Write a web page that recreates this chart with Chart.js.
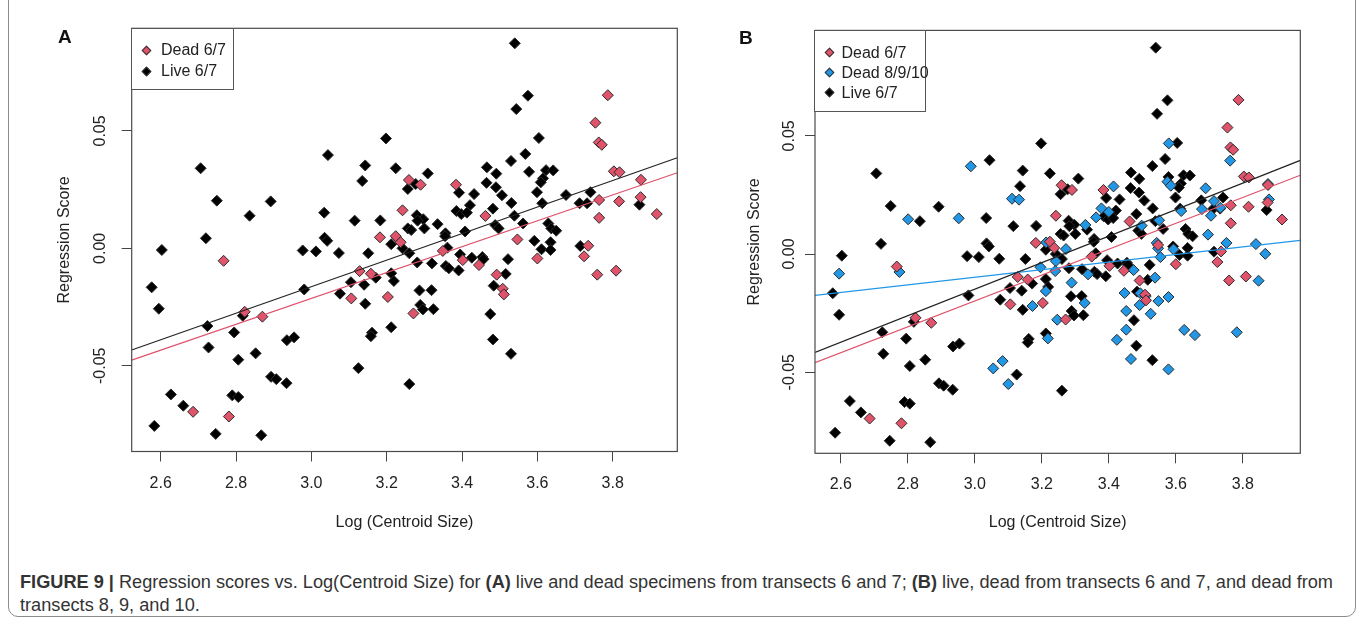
<!DOCTYPE html>
<html>
<head>
<meta charset="utf-8">
<title>Figure 9 - Regression scores vs. Log(Centroid Size)</title>
<script src="https://cdn.jsdelivr.net/npm/chart.js@4.4.1/dist/chart.umd.min.js"></script>
<style>
  html, body { margin: 0; padding: 0; background: #fff; }
  body { width: 1360px; height: 627px; position: relative; overflow: hidden; font-family: "Liberation Sans", Arial, sans-serif; }
  canvas { position: absolute; top: 0; }
  .frame { position: absolute; left: 8px; top: -20px; width: 1348px; height: 637px; border: 1.5px solid #8c8c8c; border-radius: 10px; box-sizing: border-box; }
  .tag { position: absolute; font-weight: bold; font-size: 19px; color: #111; line-height: 20px; }
  .legend { position: absolute; border: 1px solid #555; background: #fff; box-sizing: border-box; }
  .legend .row { position: absolute; font-size: 16px; line-height: 20px; color: #222; white-space: nowrap; }
  .legend .mk { position: absolute; width: 5px; height: 5px; border: 1px solid #333; transform: rotate(45deg); }
  .caption { position: absolute; left: 20px; font-size: 17.5px; line-height: 20px; color: #333; white-space: nowrap; transform-origin: 0 50%; }
</style>
</head>
<body>
<div class="frame"></div>
<canvas id="chartA" width="700" height="545" style="left:0px"></canvas>
<canvas id="chartB" width="660" height="545" style="left:700px"></canvas>
<div class="tag" style="left:58px;top:27px">A</div>
<div class="tag" style="left:739px;top:28px">B</div>
<div class="legend" id="legendA" style="left:131px;top:28px;width:103px;height:62px"></div>
<div class="legend" id="legendB" style="left:814px;top:30px;width:112px;height:82px"></div>
<div class="caption" id="cap1" style="top:572px"><b>FIGURE 9 |</b> Regression scores vs. Log(Centroid Size) for <b>(A)</b> live and dead specimens from transects 6 and 7; <b>(B)</b> live, dead from transects 6 and 7, and dead from</div>
<div class="caption" id="cap2" style="top:595px">transects 8, 9, and 10.</div>

<script>
// axis ticks
const xTicks = [2.6, 2.8, 3.0, 3.2, 3.4, 3.6, 3.8];
const yTicks = [-0.05, 0.00, 0.05];
const xRange = [2.523, 3.9715];
const yRangeA = [-0.0865, 0.0937];
const yRangeB = [-0.0843, 0.0946];

// series names
const namesA = ['Dead 6/7', 'Live 6/7'];
const namesB = ['Dead 6/7', 'Dead 8/9/10', 'Live 6/7'];

// Live 6/7  [log centroid size, regression score]
const live67 = [
  [2.706,0.0341],[2.749,0.0203],[2.836,0.0139],[2.892,0.0200],[3.044,0.0397],[3.034,0.0152],[3.035,0.0045],[3.042,0.0032],
  [2.720,0.0043],[3.198,0.0468],[3.143,0.0353],[3.135,0.0287],[3.224,0.0341],[3.115,0.0118],[3.183,0.0119],[3.540,0.0873],
  [3.575,0.0650],[3.544,0.0593],[3.604,0.0470],[3.256,0.0253],[3.277,0.0274],[3.309,0.0319],[3.530,0.0372],[3.568,0.0402],
  [3.466,0.0345],[3.491,0.0318],[3.578,0.0326],[3.623,0.0333],[3.642,0.0332],[3.615,0.0298],[3.609,0.0281],[3.465,0.0279],
  [3.490,0.0260],[3.506,0.0226],[3.392,0.0237],[3.432,0.0231],[3.421,0.0184],[3.385,0.0159],[3.398,0.0146],[3.413,0.0152],
  [3.531,0.0193],[3.599,0.0239],[3.613,0.0192],[3.676,0.0227],[3.741,0.0239],[3.712,0.0192],[3.732,0.0192],[3.482,0.0169],
  [3.539,0.0139],[3.488,0.0099],[3.497,0.0085],[3.562,0.0106],[3.629,0.0106],[3.637,0.0085],[3.650,0.0075],[3.335,0.0103],
  [3.356,0.0064],[3.408,0.0072],[3.280,0.0141],[3.297,0.0124],[3.282,0.0118],[3.300,0.0085],[3.256,0.0085],[3.265,0.0078],
  [3.871,0.0186],[3.592,0.0032],[2.603,-0.0007],[2.576,-0.0166],[2.595,-0.0257],[2.724,-0.0331],[2.727,-0.0422],[2.627,-0.0622],
  [2.660,-0.0670],[2.583,-0.0756],[2.746,-0.0790],[2.790,-0.0626],[2.806,-0.0633],[2.867,-0.0796],[2.795,-0.0358],[2.806,-0.0474],
  [2.852,-0.0447],[2.818,-0.0287],[2.893,-0.0547],[2.907,-0.0557],[2.934,-0.0574],[2.935,-0.0391],[2.954,-0.0379],[2.981,-0.0175],
  [2.977,-0.0009],[3.012,-0.0013],[3.073,-0.0020],[3.151,-0.0021],[3.212,0.0018],[3.105,-0.0144],[3.140,-0.0155],[3.076,-0.0193],
  [3.143,-0.0236],[3.171,-0.0125],[3.212,-0.0106],[3.219,-0.0139],[3.161,-0.0359],[3.158,-0.0374],[3.212,-0.0336],[3.125,-0.0510],
  [3.242,0.0000],[3.260,-0.0021],[3.281,-0.0060],[3.320,-0.0064],[3.355,0.0052],[3.361,0.0003],[3.357,-0.0075],[3.365,-0.0085],
  [3.391,-0.0094],[3.395,-0.0026],[3.426,-0.0040],[3.454,-0.0037],[3.457,-0.0046],[3.522,-0.0046],[3.516,-0.0109],[3.484,-0.0159],
  [3.475,-0.0280],[3.482,-0.0388],[3.530,-0.0449],[3.287,-0.0179],[3.319,-0.0178],[3.289,-0.0241],[3.296,-0.0260],[3.324,-0.0259],
  [3.260,-0.0578],[3.635,0.0026],[3.611,-0.0004],[3.635,-0.0007],[3.714,0.0010]
];

// Dead 6/7
const dead67 = [
  [3.182,0.0047],[3.224,0.0052],[3.242,0.0162],[3.787,0.0652],[3.754,0.0535],[3.763,0.0451],[3.771,0.0441],[3.259,0.0291],
  [3.290,0.0271],[3.384,0.0271],[3.462,0.0138],[3.764,0.0206],[3.817,0.0200],[3.803,0.0328],[3.818,0.0324],[3.875,0.0292],
  [3.874,0.0218],[3.764,0.0130],[3.917,0.0146],[3.547,0.0038],[3.809,-0.0095],[3.759,-0.0112],[2.767,-0.0053],[2.686,-0.0696],
  [2.781,-0.0716],[2.823,-0.0270],[2.870,-0.0291],[3.128,-0.0097],[3.158,-0.0108],[3.106,-0.0213],[3.203,-0.0207],[3.237,0.0026],
  [3.349,-0.0011],[3.402,-0.0050],[3.445,-0.0071],[3.492,-0.0112],[3.508,-0.0172],[3.511,-0.0196],[3.271,-0.0277],[3.600,-0.0043],
  [3.735,0.0011],[3.724,-0.0034]
];

// Dead 8/9/10 (panel B only)
const dead8910 = [
  [2.988,0.0371],[2.801,0.0147],[2.952,0.0151],[3.111,0.0234],[3.132,0.0230],[3.579,0.0468],[3.575,0.0306],[3.585,0.0289],
  [3.414,0.0286],[3.378,0.0193],[3.362,0.0155],[3.400,0.0178],[3.330,0.0123],[3.498,0.0120],[3.550,0.0143],[3.616,0.0182],
  [3.689,0.0278],[3.714,0.0224],[3.678,0.0190],[3.705,0.0162],[3.733,0.0196],[3.696,0.0082],[3.762,0.0395],[3.875,0.0296],
  [3.878,0.0231],[3.751,0.0047],[3.839,0.0042],[3.867,0.0001],[3.847,-0.0113],[3.782,-0.0331],[3.213,0.0049],[3.272,0.0021],
  [3.242,-0.0030],[3.196,-0.0056],[3.240,-0.0072],[3.338,-0.0086],[3.289,-0.0121],[3.212,-0.0157],[3.172,-0.0220],[3.328,-0.0207],
  [3.246,-0.0278],[3.218,-0.0357],[3.055,-0.0484],[3.083,-0.0453],[3.100,-0.0550],[3.424,-0.0363],[3.452,-0.0320],[3.452,-0.0241],
  [3.447,-0.0165],[3.474,-0.0068],[3.492,-0.0216],[3.494,-0.0166],[3.510,-0.0178],[3.525,-0.0253],[3.538,-0.0100],[3.548,-0.0199],
  [3.578,-0.0182],[3.466,-0.0444],[3.578,-0.0488],[3.625,-0.0321],[3.657,-0.0343],[3.543,0.0047],[3.547,0.0024],[3.554,-0.0013],
  [3.593,0.0020],[2.595,-0.0083],[2.775,-0.0076]
];

// fitted lines: regression score at the left and right edges of the x range
const fitLiveA = [-0.0433, 0.0386];
const fitDeadA = [-0.0476, 0.0322];
const fitLiveB = [-0.0416, 0.0396];
const fitDeadB = [-0.0460, 0.0333];
const fitDead8910B = [-0.0175, 0.0058];

const RED = '#DF536B', BLUE = '#2297E6', BLACK = '#000000';
const FONT = '"Liberation Sans", Arial, sans-serif';

Chart.defaults.font.family = FONT;
Chart.defaults.font.size = 16;
Chart.defaults.color = '#222';

// R style box round the plot region
const boxPlugin = {
  id: 'rbox',
  afterDatasetsDraw(chart) {
    const a = chart.chartArea, c = chart.ctx;
    c.save();
    c.strokeStyle = '#4a4a4a';
    c.lineWidth = 1.2;
    c.strokeRect(a.left, a.top, a.right - a.left, a.bottom - a.top);
    c.restore();
  }
};

function pts(arr) {
  return arr.map(p => ({ x: p[0], y: p[1] }));
}

function scatterSet(label, arr, color, order) {
  return {
    label, data: pts(arr), order,
    pointStyle: 'rectRot', pointRadius: 5.5, pointHoverRadius: 5.5,
    backgroundColor: color, borderColor: '#2b2b2b', borderWidth: 1
  };
}

function fitSet(label, ends, color) {
  return {
    label, order: 0, showLine: true, pointRadius: 0, fill: false,
    borderColor: color, borderWidth: 1.2,
    data: [{ x: xRange[0], y: ends[0] }, { x: xRange[1], y: ends[1] }]
  };
}

function makePanel(id, p) {
  return new Chart(document.getElementById(id), {
    type: 'scatter',
    data: { datasets: p.datasets },
    options: {
      responsive: false,
      animation: false,
      devicePixelRatio: 1,
      layout: { padding: p.pad },
      plugins: { legend: { display: false }, tooltip: { enabled: false } },
      scales: {
        x: {
          type: 'linear', min: xRange[0], max: xRange[1],
          afterFit(s) { s.height = p.xHeight; },
          afterBuildTicks(s) { s.ticks = xTicks.map(v => ({ value: v })); },
          ticks: { padding: 12, maxRotation: 0, autoSkip: false, color: '#222', callback: v => v.toFixed(1) },
          grid: { drawOnChartArea: false, tickLength: 10, color: '#444', tickWidth: 1 },
          border: { display: false },
          title: { display: true, text: 'Log (Centroid Size)', color: '#222', padding: { top: 0, bottom: 12.4 } }
        },
        y: {
          type: 'linear', min: p.yRange[0], max: p.yRange[1],
          afterFit(s) { s.width = p.yWidth; },
          afterBuildTicks(s) { s.ticks = yTicks.map(v => ({ value: v })); },
          ticks: { minRotation: 90, maxRotation: 90, crossAlign: 'center', padding: p.yLabelPad, color: '#222', callback: v => v.toFixed(2) },
          grid: { drawOnChartArea: false, tickLength: 10, color: '#444', tickWidth: 1 },
          border: { display: false },
          title: { display: true, text: 'Regression Score', color: '#222', padding: { top: p.yTitlePad, bottom: 0 } }
        }
      }
    },
    plugins: [boxPlugin]
  });
}

makePanel('chartA', {
  pad: { left: 0, top: 28.3, right: 22.7, bottom: 0 },
  xHeight: 93.5, yWidth: 131.7, yLabelPad: 2.5, yTitlePad: 55.4,
  yRange: yRangeA,
  datasets: [
    fitSet('fit Live 6/7', fitLiveA, '#222'),
    fitSet('fit Dead 6/7', fitDeadA, RED),
    scatterSet(namesA[0], dead67, RED, 1),
    scatterSet(namesA[1], live67, BLACK, 3)
  ]
});

makePanel('chartB', {
  pad: { left: 0, top: 30.4, right: 59.7, bottom: 0 },
  xHeight: 91.7, yWidth: 115, yLabelPad: -3.2, yTitlePad: 45.4,
  yRange: yRangeB,
  datasets: [
    fitSet('fit Live 6/7', fitLiveB, '#222'),
    fitSet('fit Dead 6/7', fitDeadB, RED),
    fitSet('fit Dead 8/9/10', fitDead8910B, BLUE),
    scatterSet(namesB[0], dead67, RED, 1),
    scatterSet(namesB[1], dead8910, BLUE, 2),
    scatterSet(namesB[2], live67, BLACK, 3)
  ]
});

// legends as html, one row per series name
function buildLegend(elId, names, colors, rowTop, rowGap, mkX, textX) {
  const el = document.getElementById(elId);
  names.forEach((n, i) => {
    const cy = rowTop + i * rowGap;
    const mk = document.createElement('div');
    mk.className = 'mk';
    mk.style.left = (mkX - 3.5) + 'px';
    mk.style.top = (cy - 3.5) + 'px';
    mk.style.background = colors[i];
    el.appendChild(mk);
    const row = document.createElement('div');
    row.className = 'row';
    row.style.left = textX + 'px';
    row.style.top = (cy - 10) + 'px';
    row.textContent = n;
    el.appendChild(row);
  });
}
buildLegend('legendA', namesA, [RED, BLACK], 21, 21, 14.5, 29);
buildLegend('legendB', namesB, [RED, BLUE, BLACK], 21.5, 20, 14, 26.5);

// caption squeezed to the width of the original line
const cap1 = document.getElementById('cap1');
const cap2 = document.getElementById('cap2');
const k = 1313 / cap1.getBoundingClientRect().width;
cap1.style.transform = 'scaleX(' + k + ')';
cap2.style.transform = 'scaleX(' + k + ')';
</script>
</body>
</html>
